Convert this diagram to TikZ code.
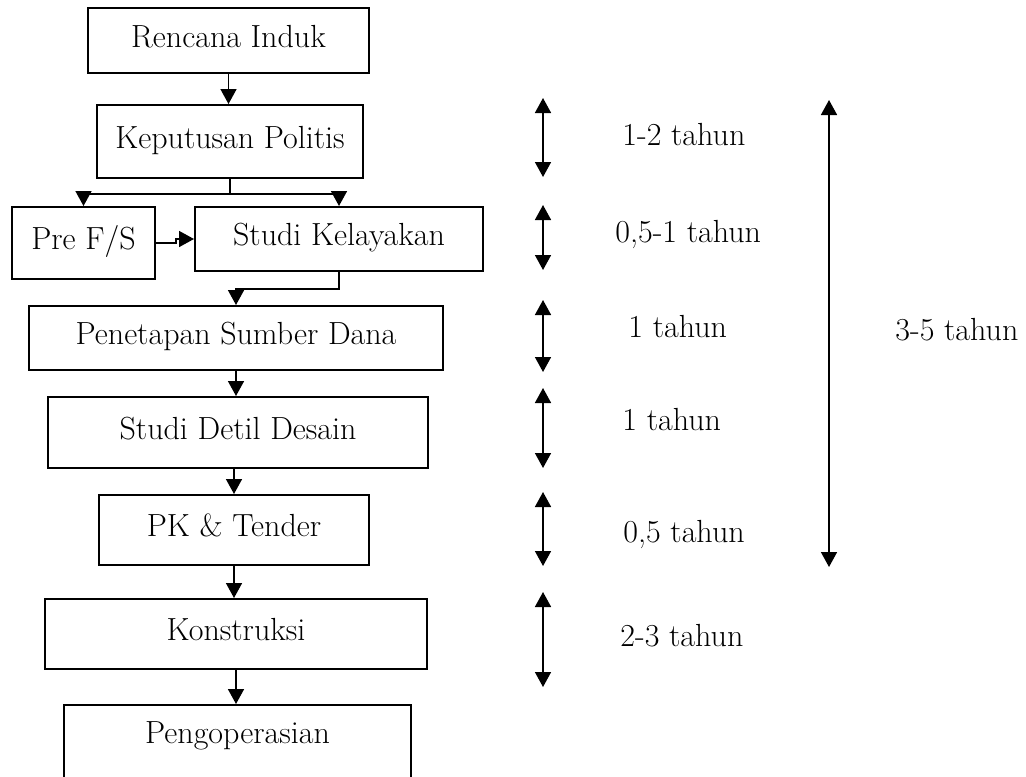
\documentclass[tikz,border=0pt]{standalone}
\usetikzlibrary{arrows.meta,calc}
\begin{document}
\begin{tikzpicture}[
    x=0.5pt, y=-0.5pt,
    stage/.style={rectangle, draw, line width=1pt, text height=10.5pt,
        text depth=4pt, inner sep=0pt, font=\fontsize{16}{19}\selectfont},
    flow/.style={line width=0.8pt, -{Triangle[length=7.5pt, width=8pt]}},
    period/.style={line width=0.8pt,
        {Triangle[length=7.5pt, width=8pt]}-{Triangle[length=7.5pt, width=8pt]}},
    duration/.style={anchor=base west, inner sep=0pt,
        font=\fontsize{16}{19}\selectfont}
]
\useasboundingbox (0,0) rectangle (1026,776);

% stages
\node (Rencana) [stage, minimum width=140.5pt, minimum height=32.5pt]
  at (228.5,40.5) {Rencana Induk};
\node (Keputusan) [stage, minimum width=133pt, minimum height=36.5pt]
  at (230,141.5) {Keputusan Politis};
\node (PreFS) [stage, minimum width=71.5pt, minimum height=36pt]
  at (83.5,243) {Pre F/S};
\node (Kelayakan) [stage, minimum width=144pt, minimum height=32pt]
  at (339,239) {Studi Kelayakan};
\node (Dana) [stage, minimum width=207pt, minimum height=32pt]
  at (236,338) {Penetapan Sumber Dana};
\node (Desain) [stage, minimum width=190pt, minimum height=35.5pt]
  at (238,432.5) {Studi Detil Desain};
\node (Tender) [stage, minimum width=135pt, minimum height=35pt]
  at (234,530) {PK \& Tender};
\node (Konstruksi) [stage, minimum width=191pt, minimum height=35pt]
  at (236,634) {Konstruksi};
\node (Operasi) [stage, minimum width=173.5pt, minimum height=40pt,
  text depth=12.5pt] at (237.5,745) {Pengoperasian};

% flow
\draw[flow] (Rencana.south) -- (Rencana.south |- Keputusan.north);
\draw[line width=0.8pt] (Keputusan.south) -- ++(0,15) coordinate (Split);
\draw[flow] (Split) -| (PreFS.north);
\draw[flow] (Split) -| (Kelayakan.north);
\draw[flow] (PreFS.east) -- ++(20,0) |- (Kelayakan.west);
\draw[flow] (Kelayakan.south) -- ++(0,17) -| (Dana.north);
\draw[flow] (Dana.south) -- (Dana.south |- Desain.north);
\draw[flow] (Tender.north |- Desain.south) -- (Tender.north);
\draw[flow] (Tender.south) -- (Tender.south |- Konstruksi.north);
\draw[flow] (Konstruksi.south) -- (Konstruksi.south |- Operasi.north);

% durations
\coordinate (T1a) at (543,98);  \coordinate (T1b) at (543,177);
\coordinate (T2a) at (543,205); \coordinate (T2b) at (543,270);
\coordinate (T3a) at (543,300); \coordinate (T3b) at (543,372);
\coordinate (T4a) at (543,388); \coordinate (T4b) at (543,468);
\coordinate (T5a) at (543,492); \coordinate (T5b) at (543,566);
\coordinate (T6a) at (543,592); \coordinate (T6b) at (543,687);
\coordinate (Ta) at (829,100);  \coordinate (Tb) at (829,567);
\draw[period] (T1a) -- (T1b);
\draw[period] (T2a) -- (T2b);
\draw[period] (T3a) -- (T3b);
\draw[period] (T4a) -- (T4b);
\draw[period] (T5a) -- (T5b);
\draw[period] (T6a) -- (T6b);
\draw[period] (Ta) -- (Tb);
\node (D1) [duration] at (622,145) {1-2 tahun};
\node (D2) [duration] at (615,242) {0,5-1 tahun};
\node (D3) [duration] at (628,337) {1 tahun};
\node (D4) [duration] at (622,430) {1 tahun};
\node (D5) [duration] at (623,542) {0,5 tahun};
\node (D6) [duration] at (620,646) {2-3 tahun};
\node (D7) [duration] at (895,340) {3-5 tahun};
\end{tikzpicture}
\end{document}
